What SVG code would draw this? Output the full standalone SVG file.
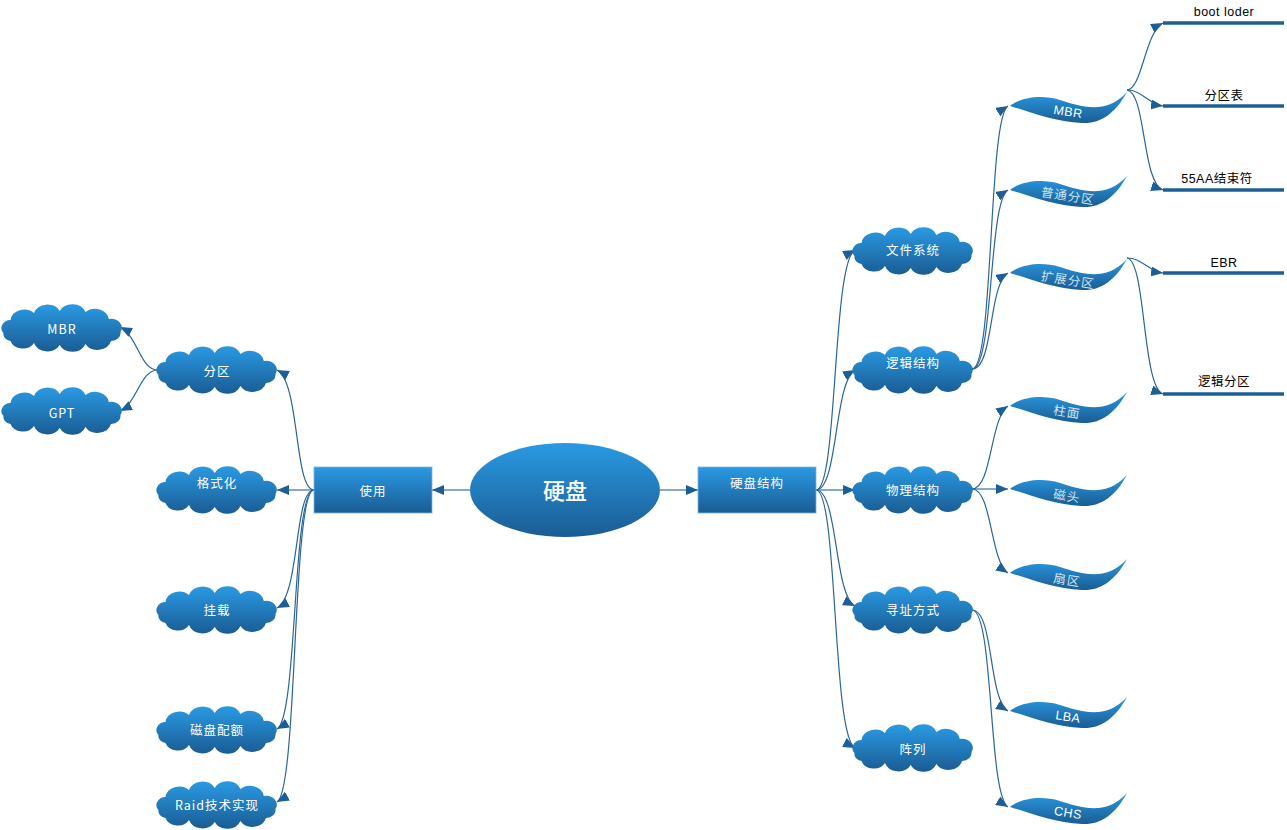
<svg xmlns="http://www.w3.org/2000/svg" xmlns:xlink="http://www.w3.org/1999/xlink" width="1287" height="830" viewBox="0 0 1287 830">
<style>
.node-text{font-family:"Noto Sans CJK SC","Liberation Sans",sans-serif;font-size:12.5px;fill:#ffffff;text-anchor:middle;dominant-baseline:central;letter-spacing:1px}
.wave-text{font-family:"Liberation Sans","Noto Sans CJK SC",sans-serif;font-size:12.5px;fill:#ffffff;text-anchor:middle;dominant-baseline:central;letter-spacing:0.5px}
.wave-cjk{font-family:"Noto Sans CJK SC",sans-serif;font-size:12.5px;fill:#d3e2ef;text-anchor:middle;dominant-baseline:central;letter-spacing:1px}
.leaf-text{font-family:"Liberation Sans","Noto Sans CJK SC",sans-serif;font-size:12.5px;fill:#000000;text-anchor:middle;dominant-baseline:central;letter-spacing:0.5px}
.curve{fill:none;stroke:#2a6699;stroke-width:1.2;marker-end:url(#arr)}
.straight{fill:none;stroke:#86aacb;stroke-width:2;marker-end:url(#arr)}
.bar{stroke:#1c5f96;stroke-width:3.5}
</style>
<defs>
<linearGradient id="g" x1="0" y1="0" x2="0" y2="1">
<stop offset="0" stop-color="#2a9ae3"/>
<stop offset="1" stop-color="#1a5c93"/>
</linearGradient>
<marker id="arr" viewBox="0 0 12 10" refX="12" refY="5" markerUnits="userSpaceOnUse" markerWidth="12" markerHeight="10" orient="auto">
<path d="M0,0 L12,5 L0,10 Z" fill="#1c5f96"/>
</marker>
<path id="cloud" d="M-58.5,5 A9.4,8 0 0 1 -51.5,-8 A14,12 0 0 1 -28,-15 A14,12 0 0 1 -2.3,-17 A14,12 0 0 1 23.4,-16 A14,12 0 0 1 46.8,-9 A10.5,9 0 0 1 58.5,4 A9.4,8 0 0 1 49,13 A14,12 0 0 1 23.4,16 A14,12 0 0 1 -2.3,17 A14,12 0 0 1 -28,15 A12.9,11 0 0 1 -51.5,13 A8.2,7 0 0 1 -58.5,5 Z" fill="url(#g)"/>
<path id="wave" d="M0,0 C10,-8 30,-12 50,-6 C70,0 95,10 117,-14 C105,8 90,18 72,17 C45,16 20,6 0,0 Z" fill="url(#g)"/>
</defs>

<g id="connectors">
<path class="straight" d="M470,490 L432,490"/>
<path class="straight" d="M660,490 L698,490"/>
<path class="straight" d="M314,490 L277,490"/>
<path class="straight" d="M816,490 L855,490"/>
<path class="straight" d="M972,489 L1008,489"/>
<path class="curve" d="M314,490 C294,490 300,382 277,370"/>
<path class="curve" d="M314,490 C294,490 300,596 277,608"/>
<path class="curve" d="M314,490 C292,490 298,717 277,729"/>
<path class="curve" d="M314,490 C292,490 298,790 277,802"/>
<path class="curve" d="M158,370 C140,370 138,336 120,327"/>
<path class="curve" d="M158,370 C140,370 138,402 120,411"/>
<path class="curve" d="M816,490 C838,490 832,262 855,250"/>
<path class="curve" d="M816,490 C838,490 834,382 855,370"/>
<path class="curve" d="M816,490 C838,490 834,596 855,606"/>
<path class="curve" d="M816,490 C838,490 832,736 855,748"/>
<path class="curve" d="M972,369 C994,369 988,118 1008,106"/>
<path class="curve" d="M972,369 C994,369 988,202 1008,190"/>
<path class="curve" d="M972,369 C994,369 988,285 1008,273"/>
<path class="curve" d="M972,489 C992,489 990,418 1008,406"/>
<path class="curve" d="M972,489 C992,489 990,561 1008,573"/>
<path class="curve" d="M972,610 C994,610 988,699 1008,711"/>
<path class="curve" d="M972,610 C994,610 988,795 1008,807"/>
<path class="curve" d="M1127,90 C1142,90 1145,32 1163,23"/>
<path class="curve" d="M1127,90 C1142,90 1148,104 1163,106"/>
<path class="curve" d="M1127,90 C1146,92 1142,183 1163,190"/>
<path class="curve" d="M1127,258 C1142,258 1148,271 1163,273"/>
<path class="curve" d="M1127,258 C1146,260 1142,387 1163,394"/>
</g>

<g id="n-root"><ellipse cx="565" cy="490" rx="95" ry="47" fill="url(#g)"/><text x="565" y="489" style="font-family:'Noto Sans CJK SC',sans-serif;font-size:22px;fill:#fff;text-anchor:middle;dominant-baseline:central;font-weight:500">硬盘</text></g>
<g id="n-use"><rect x="314" y="467" width="118" height="46" fill="url(#g)" stroke="#7fb2dd" stroke-width="0.8"/><text class="node-text" x="373" y="490">使用</text></g>
<g id="n-struct"><rect x="698" y="467" width="118" height="46" fill="url(#g)" stroke="#7fb2dd" stroke-width="0.8"/><text class="node-text" x="757" y="482">硬盘结构</text></g>

<g id="n-partition"><use xlink:href="#cloud" x="217" y="370"/><text class="node-text" x="217" y="370">分区</text></g>
<g id="n-mbr-l"><use xlink:href="#cloud" x="62" y="328"/><text class="node-text" x="62" y="328">MBR</text></g>
<g id="n-gpt"><use xlink:href="#cloud" x="62" y="411"/><text class="node-text" x="62" y="412">GPT</text></g>
<g id="n-format"><use xlink:href="#cloud" x="217" y="490"/><text class="node-text" x="217" y="482">格式化</text></g>
<g id="n-mount"><use xlink:href="#cloud" x="217" y="610"/><text class="node-text" x="217" y="609">挂载</text></g>
<g id="n-quota"><use xlink:href="#cloud" x="217" y="730"/><text class="node-text" x="217" y="729">磁盘配额</text></g>
<g id="n-raid"><use xlink:href="#cloud" x="217" y="805"/><text class="node-text" x="217" y="804">Raid技术实现</text></g>

<g id="n-fs"><use xlink:href="#cloud" x="913" y="251"/><text class="node-text" x="913" y="249">文件系统</text></g>
<g id="n-logic"><use xlink:href="#cloud" x="913" y="370"/><text class="node-text" x="913" y="362">逻辑结构</text></g>
<g id="n-phys"><use xlink:href="#cloud" x="913" y="490"/><text class="node-text" x="913" y="489">物理结构</text></g>
<g id="n-addr"><use xlink:href="#cloud" x="913" y="610"/><text class="node-text" x="913" y="609">寻址方式</text></g>
<g id="n-array"><use xlink:href="#cloud" x="913" y="748"/><text class="node-text" x="913" y="748">阵列</text></g>

<g id="n-mbr-w"><use xlink:href="#wave" transform="translate(1010,106)"/><text class="wave-text" transform="translate(1068,112) rotate(9)">MBR</text></g>
<g id="n-normal"><use xlink:href="#wave" transform="translate(1010,190)"/><text class="wave-cjk" transform="translate(1068,195) rotate(9)">普通分区</text></g>
<g id="n-ext"><use xlink:href="#wave" transform="translate(1010,273)"/><text class="wave-cjk" transform="translate(1068,279) rotate(9)">扩展分区</text></g>
<g id="n-cyl"><use xlink:href="#wave" transform="translate(1010,406)"/><text class="wave-cjk" transform="translate(1067,411) rotate(9)">柱面</text></g>
<g id="n-head"><use xlink:href="#wave" transform="translate(1010,489)"/><text class="wave-cjk" transform="translate(1067,495) rotate(9)">磁头</text></g>
<g id="n-sector"><use xlink:href="#wave" transform="translate(1010,573)"/><text class="wave-cjk" transform="translate(1067,579) rotate(9)">扇区</text></g>
<g id="n-lba"><use xlink:href="#wave" transform="translate(1010,711)"/><text class="wave-text" transform="translate(1068,717) rotate(9)">LBA</text></g>
<g id="n-chs"><use xlink:href="#wave" transform="translate(1010,807)"/><text class="wave-text" transform="translate(1068,813) rotate(9)">CHS</text></g>

<g id="n-boot"><line class="bar" x1="1163" y1="23" x2="1284" y2="23"/><text class="leaf-text" x="1224" y="12">boot loder</text></g>
<g id="n-ptable"><line class="bar" x1="1163" y1="106" x2="1284" y2="106"/><text class="leaf-text" x="1224" y="96">分区表</text></g>
<g id="n-55aa"><line class="bar" x1="1163" y1="190" x2="1284" y2="190"/><text class="leaf-text" x="1217" y="179">55AA结束符</text></g>
<g id="n-ebr"><line class="bar" x1="1163" y1="273" x2="1284" y2="273"/><text class="leaf-text" x="1224" y="263">EBR</text></g>
<g id="n-lpart"><line class="bar" x1="1163" y1="394" x2="1284" y2="394"/><text class="leaf-text" x="1224" y="382">逻辑分区</text></g>
</svg>
